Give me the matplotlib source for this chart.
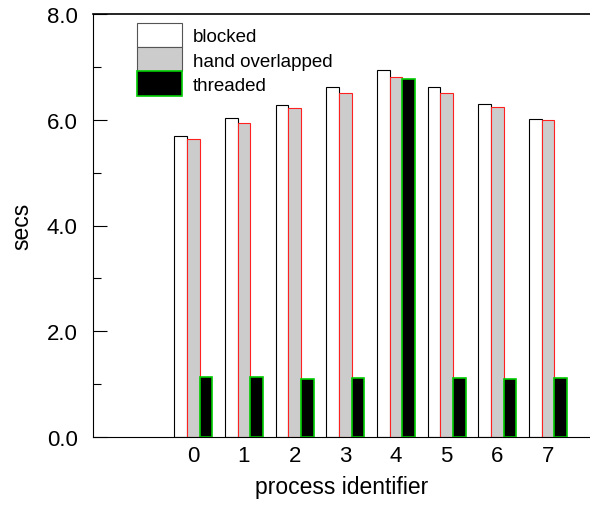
import matplotlib
matplotlib.use("Agg")
import matplotlib.pyplot as plt
from matplotlib.patches import Patch
import numpy as np

categories = ["0", "1", "2", "3", "4", "5", "6", "7"]
blocked = [5.69, 6.03, 6.27, 6.61, 6.95, 6.62, 6.29, 6.02]
hand_overlapped = [5.64, 5.94, 6.22, 6.51, 6.80, 6.51, 6.24, 5.99]
threaded = [1.13, 1.14, 1.10, 1.12, 6.78, 1.12, 1.10, 1.12]

plt.rcParams['font.family'] = ['Liberation Sans', 'DejaVu Sans']

fig = plt.figure(figsize=(5.9, 5.06), dpi=100)
ax = fig.add_axes([93/590, 1-438/506, 1-93/590, (438-15)/506])

x = np.arange(len(categories))
w = 0.25
ax.bar(x - w, blocked, w, facecolor="white", edgecolor="black", linewidth=0.8)
ax.bar(x, hand_overlapped, w, facecolor="#cccccc", edgecolor="#ff2020", linewidth=0.8)
ax.bar(x + w, threaded, w, facecolor="black", edgecolor="#00cc00", linewidth=1.2)

ax.set_xlim(-1.98, 7.83)
ax.set_ylim(0, 8)
ax.set_xticks(x)
ax.set_xticklabels(categories)
ax.set_yticks([0, 2, 4, 6, 8])
ax.set_yticklabels(["0.0", "2.0", "4.0", "6.0", "8.0"])
ax.set_yticks([1, 3, 5, 7], minor=True)
ax.tick_params(axis='y', which='major', direction='in', length=10, width=0.8, labelsize=16, pad=11)
ax.tick_params(axis='y', which='minor', direction='in', length=5.5, width=0.8)
ax.tick_params(axis='x', length=0, labelsize=16, pad=6)
ax.spines['right'].set_visible(False)
for s in ['left', 'bottom']:
    ax.spines[s].set_linewidth(0.8)
ax.spines['top'].set_linewidth(1.2)

ax.set_ylabel("secs", fontsize=16.5, labelpad=10)
ax.set_xlabel("process identifier", fontsize=16.5, labelpad=6)

handles = [Patch(facecolor="white", edgecolor="#555555", linewidth=0.8),
           Patch(facecolor="#cccccc", edgecolor="#555555", linewidth=0.8),
           Patch(facecolor="black", edgecolor="#00cc00", linewidth=1.2)]
ax.legend(handles, ["blocked", "hand overlapped", "threaded"],
          loc="upper left", bbox_to_anchor=(0.0885, 0.978), frameon=False,
          fontsize=13.5, handlelength=2.4, handleheight=1.6, labelspacing=0.0,
          handletextpad=0.6, borderpad=0.0, borderaxespad=0.0)

fig.savefig("out.png", dpi=100)
